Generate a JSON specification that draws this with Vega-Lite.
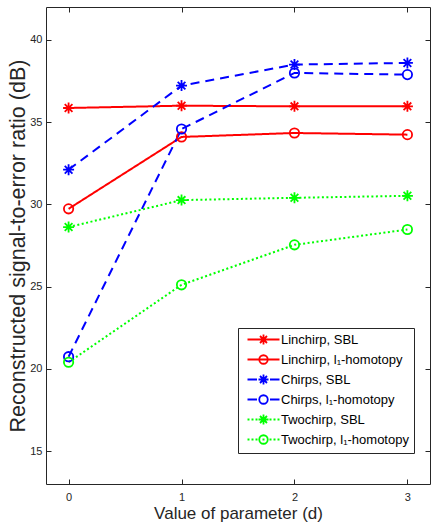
{
  "$schema": "https://vega.github.io/schema/vega-lite/v6.json",
  "width": 384,
  "height": 477,
  "autosize": {"type": "none"},
  "padding": {"left": 46, "top": 7, "right": 1, "bottom": 40},
  "config": {
    "view": {"stroke": "#262626", "strokeWidth": 1},
    "font": "Liberation Sans",
    "axis": {
      "grid": false,
      "domain": false,
      "tickColor": "#262626",
      "tickSize": -5,
      "tickWidth": 1,
      "labelColor": "#262626",
      "labelFontSize": 11,
      "labelFont": "Liberation Sans",
      "titleColor": "#262626",
      "titleFontSize": 17,
      "titleFontWeight": "normal",
      "titleFont": "Liberation Sans"
    }
  },
  "resolve": {"axis": {"x": "independent", "y": "independent"}},
  "data": {
    "values": [
      {"series": "Linchirp, SBL", "signal": "Linchirp", "method": "SBL", "d": 0, "v": 35.86},
      {"series": "Linchirp, SBL", "signal": "Linchirp", "method": "SBL", "d": 1, "v": 36.0},
      {"series": "Linchirp, SBL", "signal": "Linchirp", "method": "SBL", "d": 2, "v": 35.96},
      {"series": "Linchirp, SBL", "signal": "Linchirp", "method": "SBL", "d": 3, "v": 35.96},
      {"series": "Linchirp, l₁-homotopy", "signal": "Linchirp", "method": "l1", "d": 0, "v": 29.73},
      {"series": "Linchirp, l₁-homotopy", "signal": "Linchirp", "method": "l1", "d": 1, "v": 34.1},
      {"series": "Linchirp, l₁-homotopy", "signal": "Linchirp", "method": "l1", "d": 2, "v": 34.34},
      {"series": "Linchirp, l₁-homotopy", "signal": "Linchirp", "method": "l1", "d": 3, "v": 34.24},
      {"series": "Chirps, SBL", "signal": "Chirps", "method": "SBL", "d": 0, "v": 32.11},
      {"series": "Chirps, SBL", "signal": "Chirps", "method": "SBL", "d": 1, "v": 37.22},
      {"series": "Chirps, SBL", "signal": "Chirps", "method": "SBL", "d": 2, "v": 38.5},
      {"series": "Chirps, SBL", "signal": "Chirps", "method": "SBL", "d": 3, "v": 38.6},
      {"series": "Chirps, l₁-homotopy", "signal": "Chirps", "method": "l1", "d": 0, "v": 20.74},
      {"series": "Chirps, l₁-homotopy", "signal": "Chirps", "method": "l1", "d": 1, "v": 34.58},
      {"series": "Chirps, l₁-homotopy", "signal": "Chirps", "method": "l1", "d": 2, "v": 37.99},
      {"series": "Chirps, l₁-homotopy", "signal": "Chirps", "method": "l1", "d": 3, "v": 37.89},
      {"series": "Twochirp, SBL", "signal": "Twochirp", "method": "SBL", "d": 0, "v": 28.62},
      {"series": "Twochirp, SBL", "signal": "Twochirp", "method": "SBL", "d": 1, "v": 30.26},
      {"series": "Twochirp, SBL", "signal": "Twochirp", "method": "SBL", "d": 2, "v": 30.4},
      {"series": "Twochirp, SBL", "signal": "Twochirp", "method": "SBL", "d": 3, "v": 30.52},
      {"series": "Twochirp, l₁-homotopy", "signal": "Twochirp", "method": "l1", "d": 0, "v": 20.4},
      {"series": "Twochirp, l₁-homotopy", "signal": "Twochirp", "method": "l1", "d": 1, "v": 25.11},
      {"series": "Twochirp, l₁-homotopy", "signal": "Twochirp", "method": "l1", "d": 2, "v": 27.54},
      {"series": "Twochirp, l₁-homotopy", "signal": "Twochirp", "method": "l1", "d": 3, "v": 28.47}
    ]
  },
  "layer": [
    {
      "mark": {"type": "line", "strokeWidth": 2, "clip": true},
      "encoding": {
        "x": {
          "field": "d", "type": "quantitative",
          "scale": {"domain": [-0.2, 3.2], "nice": false, "zero": false},
          "axis": {"orient": "bottom", "values": [0, 1, 2, 3], "title": "Value of parameter (d)", "labelPadding": 12, "titlePadding": 3}
        },
        "y": {
          "field": "v", "type": "quantitative",
          "scale": {"domain": [13, 42], "nice": false, "zero": false},
          "axis": {"orient": "left", "values": [15, 20, 25, 30, 35, 40], "title": "Reconstructed signal-to-error ratio (dB)", "labelPadding": 9, "titlePadding": 0, "titleFontSize": 21.5}
        },
        "detail": {"field": "series", "type": "nominal"},
        "color": {
          "field": "series", "type": "nominal",
          "scale": {
            "domain": ["Linchirp, SBL", "Linchirp, l₁-homotopy", "Chirps, SBL", "Chirps, l₁-homotopy", "Twochirp, SBL", "Twochirp, l₁-homotopy"],
            "range": ["#ff0000", "#ff0000", "#0000ff", "#0000ff", "#00ff00", "#00ff00"]
          },
          "legend": {
            "title": null,
            "orient": "none",
            "legendX": 192,
            "legendY": 321,
            "padding": 5,
            "strokeColor": "#262626",
            "fillColor": "#ffffff",
            "labelFontSize": 13,
            "labelFont": "Liberation Sans",
            "labelColor": "#000000",
            "labelLimit": 300,
            "symbolSize": 100,
            "symbolOffset": 14,
            "labelOffset": 11,
            "rowPadding": 2,
            "symbolStrokeWidth": 1.8,
            "encode": {
              "symbols": {
                "update": {
                  "shape": {"signal": "(indexof(datum.value,'Linchirp')===0 ? 'M-3.2,0H3.2' : indexof(datum.value,'Chirps')===0 ? 'M-3.2,0H-1.3M1.3,0H3.2' : 'M-3.2,0H-2.8M-2.4,0H-2M-1.6,0H-1.2M-0.2,0H0.2M1.2,0H1.6M2,0H2.4M2.8,0H3.2') + (indexof(datum.value,'SBL')>=0 ? 'M-1,0H1M0,-1V1M-0.7,-0.7L0.7,0.7M-0.7,0.7L0.7,-0.7' : 'M0.85,0A0.85,0.85,0,1,1,-0.85,0A0.85,0.85,0,1,1,0.85,0')"},
                  "strokeWidth": {"value": 1.8},
                  "fill": {"value": "transparent"}
                }
              }
            }
          }
        },
        "strokeDash": {
          "field": "signal", "type": "nominal",
          "scale": {
            "domain": ["Linchirp", "Chirps", "Twochirp"],
            "range": [[1, 0], [9, 6], [2, 2.5]]
          },
          "legend": null
        }
      }
    },
    {
      "mark": {"type": "point", "filled": false, "strokeWidth": 1.8, "opacity": 1, "size": 121},
      "encoding": {
        "x": {
          "field": "d", "type": "quantitative",
          "scale": {"domain": [-0.2, 3.2], "nice": false, "zero": false},
          "axis": {"orient": "top", "values": [0, 1, 2, 3], "title": null, "labels": false}
        },
        "y": {
          "field": "v", "type": "quantitative",
          "scale": {"domain": [13, 42], "nice": false, "zero": false},
          "axis": {"orient": "right", "values": [15, 20, 25, 30, 35, 40], "title": null, "labels": false}
        },
        "detail": {"field": "series", "type": "nominal"},
        "stroke": {
          "field": "series", "type": "nominal",
          "scale": {
            "domain": ["Linchirp, SBL", "Linchirp, l₁-homotopy", "Chirps, SBL", "Chirps, l₁-homotopy", "Twochirp, SBL", "Twochirp, l₁-homotopy"],
            "range": ["#ff0000", "#ff0000", "#0000ff", "#0000ff", "#00ff00", "#00ff00"]
          },
          "legend": null
        },
        "shape": {
          "field": "method", "type": "nominal",
          "scale": {
            "domain": ["SBL", "l1"],
            "range": [
              "M-1,0H1M0,-1V1M-0.7,-0.7L0.7,0.7M-0.7,0.7L0.7,-0.7",
              "M0.85,0A0.85,0.85,0,1,1,-0.85,0A0.85,0.85,0,1,1,0.85,0"
            ]
          },
          "legend": null
        }
      }
    }
  ]
}
